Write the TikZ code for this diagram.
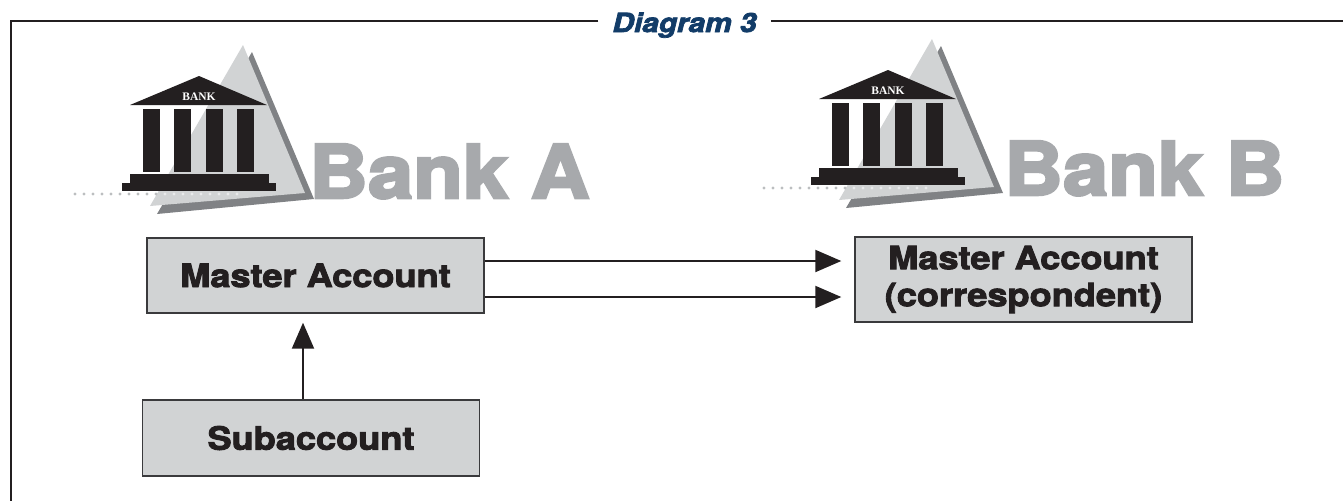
\documentclass[tikz,border=0pt]{standalone}
\usepackage{fontspec}
\usetikzlibrary{arrows.meta}
\newfontfamily\heavyfont[FakeBold=2.8,FakeStretch=1.13]{TeX Gyre Heros}
\newfontfamily\blackfont[FakeBold=3.5,FakeStretch=1.1]{TeX Gyre Heros}
\newfontfamily\bankserif{Liberation Serif}
\definecolor{ink}{HTML}{231F20}
\definecolor{navy}{HTML}{123C68}
\definecolor{banktext}{HTML}{A7A9AC}
\definecolor{trilight}{HTML}{D1D3D4}
\definecolor{tridark}{HTML}{808285}
\definecolor{boxfill}{HTML}{D1D3D4}
\definecolor{boxline}{HTML}{3A3A3C}
\definecolor{dotout}{HTML}{BCBEC0}
\definecolor{dotin}{HTML}{E9EAEB}
\tikzset{
  frameline/.style={draw=ink,line width=2pt},
  acct/.style={draw=boxline,fill=boxfill,line width=1.4pt,minimum width=337pt,
    inner sep=0pt,text=ink,align=center,font=\heavyfont\bfseries\fontsize{32}{37}\selectfont},
  conn/.style={draw=ink,line width=2pt,-{Triangle[length=26pt,width=22pt]}},
  banklabel/.style={text=banktext,inner sep=0pt,anchor=base west,
    font=\blackfont\bfseries\fontsize{74}{80}\selectfont},
  bankicon/.pic={
    \fill[tridark] (252,52) -- (314,199) -- (157,214) -- cycle;
    \fill[trilight] (243,45) -- (305,193) -- (150,206) -- cycle;
    \foreach \i in {0,...,9} \fill[dotout] (75+9*\i,194) circle[radius=1.7pt];
    \foreach \i in {10,...,18} \fill[dotin] (75+9*\i,194) circle[radius=1.7pt];
    \fill[ink] (130,105) -- (199,76) -- (267,105) -- cycle;
    \foreach \cx in {143,174,206,237} \fill[ink] (\cx,109) rectangle (\cx+17,172);
    \fill[ink] (130,174) rectangle (269,183.5);
    \fill[ink] (122,183) rectangle (276,191);
    \node[text=white,inner sep=0pt,anchor=base,font=\bankserif\bfseries\fontsize{11.5}{12}\selectfont] (lbl) at (199,100) {BANK};
  }
}
\begin{document}
\begin{tikzpicture}[x=1pt,y=-1pt]
\useasboundingbox (0,0) rectangle (1343,501);
% frame and title
\node[text=navy,inner xsep=14pt,inner ysep=0pt,anchor=base,
  font=\heavyfont\bfseries\itshape\fontsize{26.4}{30}\selectfont] (title) at (684.5,32) {Diagram 3};
\coordinate (tl) at (11,21);
\coordinate (bl) at (11,501);
\coordinate (tr) at (1343,21);
\draw[frameline] (title.west |- tl) -- (tl) -- (bl);
\draw[frameline] (title.east |- tl) -- (tr);
% bank icons
\pic (pa) at (0,0) {bankicon};
\pic (pb) at (689,-6) {bankicon};
\node[banklabel] (banka) at (309,198) {Bank A};
\node[banklabel] (bankb) at (1004,195) {Bank B};
% accounts
\node[acct,minimum height=75pt] (ma) at (315.5,275.5) {Master Account};
\node[acct,minimum height=85pt] (mb) at (1023.5,279.5) {Master Account\\(correspondent)};
\node[acct,minimum height=76pt] (sub) at (311,438) {Subaccount};
% connectors
\coordinate (s1) at ([yshift=14.5pt]ma.east);
\coordinate (s2) at ([yshift=-21.5pt]ma.east);
\coordinate (e0) at ([xshift=-13pt]mb.west);
\draw[conn] (s1) -- (s1 -| e0);
\draw[conn] (s2) -- (s2 -| e0);
\coordinate (u1) at ([xshift=-8pt]sub.north);
\coordinate (u2) at ([yshift=-9pt]ma.south);
\draw[conn] (u1) -- (u1 |- u2);
\end{tikzpicture}
\end{document}
